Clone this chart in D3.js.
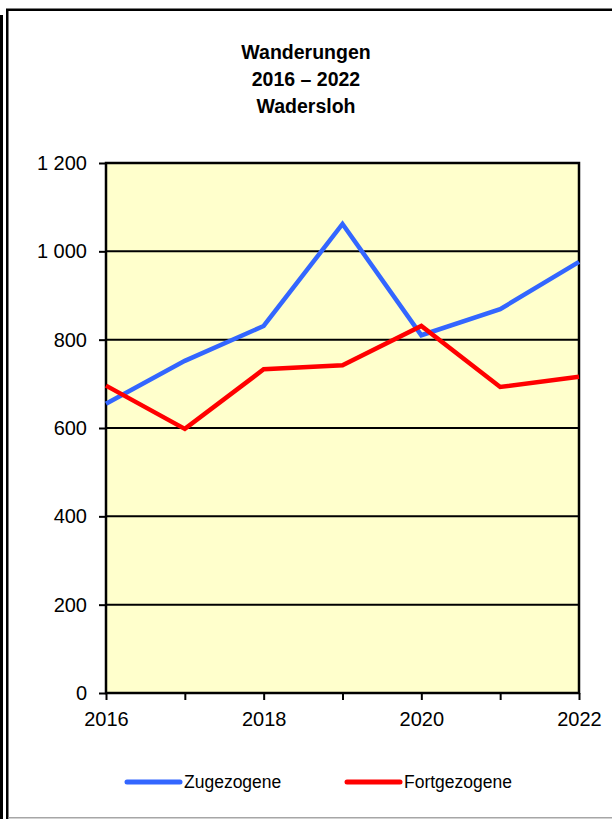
<!DOCTYPE html>
<html>
<head>
<meta charset="utf-8">
<script src="https://cdn.jsdelivr.net/npm/d3@7"></script>
<style>
  html, body { margin: 0; padding: 0; background: #ffffff; }
  svg { display: block; }
  text { font-family: "Liberation Sans", Arial, sans-serif; fill: #000; }
</style>
</head>
<body>
<svg id="chart" width="612" height="819"></svg>
<script>
// ---- data ----
const years = [2016, 2017, 2018, 2019, 2020, 2021, 2022];
const zugezogene = [655, 752, 831, 1062, 810, 869, 976];
const fortgezogene = [696, 598, 733, 742, 831, 693, 716];
const seriesNames = ["Zugezogene", "Fortgezogene"];
const yTicks = [0, 200, 400, 600, 800, 1000, 1200];
const xLabelYears = [2016, 2018, 2020, 2022];
const titleLines = ["Wanderungen", "2016 \u2013 2022", "Wadersloh"];

// ---- layout ----
const W = 612, H = 819;
const plot = { left: 106, right: 579, top: 163, bottom: 693 };
const colors = { Zugezogene: "#3366ff", Fortgezogene: "#ff0000" };

const svg = d3.select("#chart");

// frame
svg.append("rect").attr("x", 0).attr("y", 15).attr("width", 3).attr("height", H - 15).attr("fill", "#000");
svg.append("rect").attr("x", 6).attr("y", 9).attr("width", 2.5).attr("height", H - 9).attr("fill", "#000");
svg.append("rect").attr("x", 6).attr("y", 8.5).attr("width", W - 6).attr("height", 2.5).attr("fill", "#000");
svg.append("rect").attr("x", 8.5).attr("y", 817).attr("width", W - 8.5).attr("height", 1.5).attr("fill", "#a6a6a6");

// scales
const x = d3.scaleLinear().domain([2016, 2022]).range([plot.left, plot.right]);
const y = d3.scaleLinear().domain([0, 1200]).range([plot.bottom, plot.top]);

// plot background
svg.append("rect")
  .attr("x", plot.left).attr("y", plot.top)
  .attr("width", plot.right - plot.left).attr("height", plot.bottom - plot.top)
  .attr("fill", "#ffffcc");

// gridlines
svg.append("g").selectAll("line")
  .data(yTicks.filter(d => d > 0 && d < 1200))
  .join("line")
  .attr("x1", plot.left).attr("x2", plot.right)
  .attr("y1", d => y(d)).attr("y2", d => y(d))
  .attr("stroke", "#000").attr("stroke-width", 2);

// y axis
const locale = d3.formatLocale({ decimal: ",", thousands: " ", grouping: [3], currency: ["", " \u20ac"] });
const fmt = locale.format(",d");
const yAxis = svg.append("g")
  .attr("transform", `translate(${plot.left},0)`)
  .call(d3.axisLeft(y).tickValues(yTicks).tickFormat(fmt).tickSize(7).tickPadding(12));
yAxis.select(".domain").remove();
yAxis.selectAll(".tick line").attr("stroke", "#000").attr("stroke-width", 2);
yAxis.selectAll(".tick text").attr("font-size", 20).attr("font-family", "Liberation Sans, Arial, sans-serif").attr("fill", "#000");

// x axis
const xAxis = svg.append("g")
  .attr("transform", `translate(0,${plot.bottom})`)
  .call(d3.axisBottom(x).tickValues(years).tickFormat(d => xLabelYears.includes(d) ? String(d) : "").tickSize(7).tickPadding(12));
xAxis.select(".domain").remove();
xAxis.selectAll(".tick line").attr("stroke", "#000").attr("stroke-width", 2);
xAxis.selectAll(".tick text").attr("font-size", 20).attr("font-family", "Liberation Sans, Arial, sans-serif").attr("fill", "#000");

// plot border
svg.append("rect")
  .attr("x", plot.left).attr("y", plot.top)
  .attr("width", plot.right - plot.left).attr("height", plot.bottom - plot.top)
  .attr("fill", "none").attr("stroke", "#000").attr("stroke-width", 2.5);

// lines
const line = d3.line().x(d => x(d[0])).y(d => y(d[1]));
const series = [
  { name: seriesNames[0], values: zugezogene },
  { name: seriesNames[1], values: fortgezogene }
];
svg.append("g").selectAll("path")
  .data(series)
  .join("path")
  .attr("d", s => line(years.map((yr, i) => [yr, s.values[i]])))
  .attr("fill", "none")
  .attr("stroke", s => colors[s.name])
  .attr("stroke-width", 4.5)
  .attr("stroke-linejoin", "miter");

// title
svg.append("g").selectAll("text")
  .data(titleLines)
  .join("text")
  .attr("x", 306)
  .attr("y", (d, i) => 59 + i * 27)
  .attr("text-anchor", "middle")
  .attr("font-size", 19.5)
  .attr("font-weight", "bold")
  .text(d => d);

// legend
const legendX = [127, 347];
const lg = svg.append("g").selectAll("g").data(series).join("g")
  .attr("transform", (d, i) => `translate(${legendX[i]},782)`);
lg.append("line")
  .attr("x1", 0).attr("x2", 53).attr("y1", 0).attr("y2", 0)
  .attr("stroke", d => colors[d.name]).attr("stroke-width", 5).attr("stroke-linecap", "round");
lg.append("text")
  .attr("x", 57).attr("y", 6)
  .attr("font-size", 17.5)
  .text(d => d.name);
</script>
</body>
</html>
